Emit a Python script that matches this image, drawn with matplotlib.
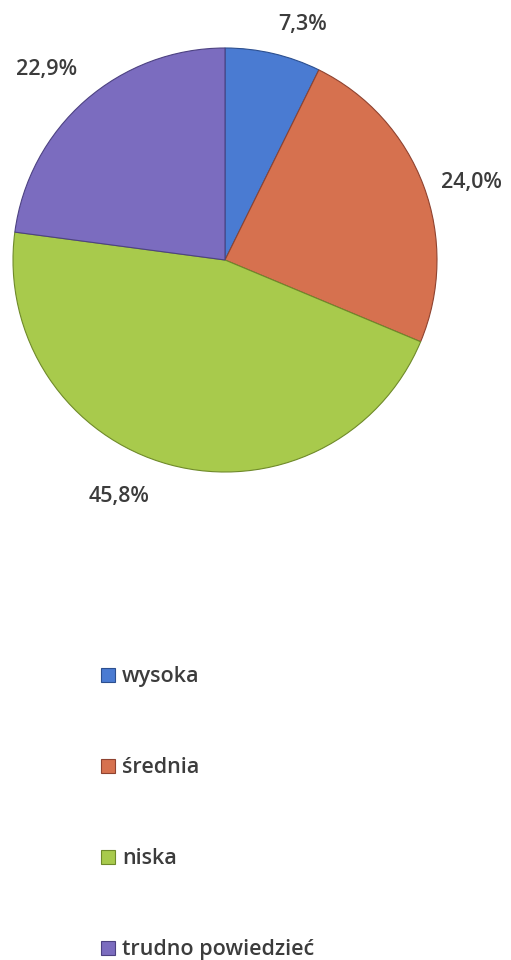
import matplotlib
matplotlib.use("Agg")
import matplotlib.pyplot as plt
import numpy as np

categories = ["wysoka", "średnia", "niska", "trudno powiedzieć"]
values = [7.3, 24.0, 45.8, 22.9]
value_labels = ["7,3%", "24,0%", "45,8%", "22,9%"]
colors = ["#4a7bd2", "#d6714f", "#a8ca4c", "#7b6cbf"]
edge_colors = ["#2c4f8f", "#8f4330", "#6f8a2a", "#4d4282"]

# label positions (radius multipliers relative to wedge mid-angle)
label_radius = [1.17, 1.22, 1.22, 1.23]
label_angle_shift = [-5, -3, -9, 2]

W, H = 511, 960
fig = plt.figure(figsize=(W / 100, H / 100), dpi=100)
fig.patch.set_facecolor("white")

cx, cy, r = 225, 260, 212
ax = fig.add_axes([(cx - r) / W, 1 - (cy + r) / H, 2 * r / W, 2 * r / H])
wedges, _ = ax.pie(values, colors=colors, startangle=90, counterclock=False,
                   radius=1.0, wedgeprops=dict(linewidth=0.8))
for w, ec in zip(wedges, edge_colors):
    w.set_edgecolor(ec)
ax.set_xlim(-1, 1)
ax.set_ylim(-1, 1)
ax.set_aspect("equal")
ax.axis("off")

font = ["Open Sans", "DejaVu Sans"]
for w, lab, rr, sh in zip(wedges, value_labels, label_radius, label_angle_shift):
    mid = np.deg2rad((w.theta1 + w.theta2) / 2 + sh)
    ax.text(rr * np.cos(mid), rr * np.sin(mid), lab, ha="center", va="center",
            fontsize=15.5, fontweight="semibold", color="#3c3c3c", family=font,
            clip_on=False)

leg = fig.legend(wedges, categories, loc="upper left",
                 bbox_to_anchor=(82 / W, 1 - 647 / H), frameon=False,
                 prop=dict(family=font, size=15.5, weight="semibold"),
                 labelspacing=3.25, handlelength=0.62, handleheight=0.62,
                 handletextpad=0.35)
for t in leg.get_texts():
    t.set_color("#3c3c3c")

fig.savefig("out.png", dpi=100, facecolor="white")
